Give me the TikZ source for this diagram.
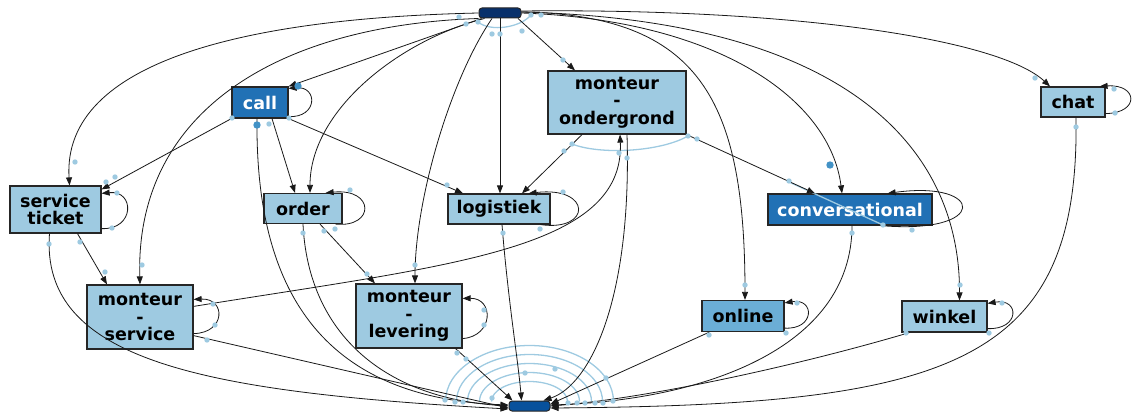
\documentclass[tikz,border=0pt]{standalone}
\usepackage{fontspec}
\setmainfont{DejaVu Sans}
\usetikzlibrary{arrows.meta}

\definecolor{lightbox}{HTML}{9ECAE1}
\definecolor{midbox}{HTML}{2171B5}
\definecolor{onlinebox}{HTML}{6BAED6}
\definecolor{startbox}{HTML}{08306B}
\definecolor{endbox}{HTML}{08519C}
\definecolor{dotc}{HTML}{9ECAE1}
\definecolor{bigdotc}{HTML}{4292C6}

\tikzset{
  act/.style={draw=black!85, line width=1.2pt, fill=lightbox, align=center,
    inner sep=0pt, text=black, font=\fontsize{17.5}{17.5}\selectfont\bfseries},
  hot/.style={act, fill=midbox, text=white},
  terminal/.style={draw=black!85, line width=1pt, rounded corners=3pt,
    inner sep=0pt, minimum height=10pt},
  flow/.style={draw=black!90, line width=0.8pt, -{Triangle[length=8pt,width=6pt]}},
  ghost/.style={draw=dotc, line width=1.3pt},
}

\begin{document}
\begin{tikzpicture}[x=1pt,y=-1pt]
\useasboundingbox (0,0) rectangle (1132,414);

% activities
\node[terminal, fill=startbox, minimum width=42pt] (start) at (500,13) {};
\node[terminal, fill=endbox, minimum width=41pt] (end) at (529.5,406) {};
\node[hot, minimum width=56pt, minimum height=31pt] (call) at (260,102.5) {call};
\node[act, minimum width=138pt, minimum height=63pt] (mo) at (617,102.5) {monteur\\-\\ondergrond};
\node[act, minimum width=64pt, minimum height=30pt] (ch) at (1073,102) {chat};
\node[act, minimum width=91pt, minimum height=47pt] (stk) at (55.5,209.5) {service\\ticket};
\node[act, minimum width=78pt, minimum height=30pt] (order) at (303,208.5) {order};
\node[act, minimum width=102pt, minimum height=30pt] (lg) at (499,209) {logistiek};
\node[hot, minimum width=164pt, minimum height=31pt] (cv) at (850,209.5) {conversational};
\node[act, minimum width=106pt, minimum height=64pt] (ms) at (140,317) {monteur\\-\\service};
\node[act, minimum width=106pt, minimum height=64pt] (ml) at (409,316) {monteur\\-\\levering};
\node[act, fill=onlinebox, minimum width=82pt, minimum height=31pt] (on) at (743,316) {online};
\node[act, minimum width=85pt, minimum height=31pt] (wk) at (944.5,316.5) {winkel};

% light-blue arcs
\draw[ghost] (478,22) .. controls (490,32) and (520,28) .. (531,15);
\draw[ghost] (572,144) .. controls (600,155) and (660,152) .. (688,136);
\draw[ghost] (789,182) -- (883,225);
\foreach \rx/\ry in {38/20, 50/29, 62/38, 73/47, 84/56}{
  \draw[ghost] ([xshift=-\rx pt]end.north) ++(0,1) arc[start angle=180, end angle=0, x radius=\rx pt, y radius=\ry pt];
}

% edges leaving start
\draw[flow] (start.west) .. controls (250,18) and (62,60) .. ([xshift=14pt]stk.north);
\draw[flow] (start.south west) .. controls (280,25) and (135,110) .. (ms.north);
\draw[flow] ([xshift=3pt]start.south west) -- (call.north east);
\draw[flow] ([xshift=6pt]start.south west) .. controls (400,40) and (310,110) .. ([xshift=7pt]order.north);
\draw[flow] ([xshift=-8pt]start.south) .. controls (450,80) and (415,200) .. ([xshift=6pt]ml.north);
\draw[flow] (start.south) -- ([xshift=1pt]lg.north);
\draw[flow] ([xshift=18pt]start.south) -- ([xshift=-42pt]mo.north);
\draw[flow] ([yshift=1pt]start.east) .. controls (700,15) and (745,100) .. ([xshift=2pt]on.north);
\draw[flow] (start.east) .. controls (720,20) and (830,100) .. ([xshift=-8pt]cv.north);
\draw[flow] ([yshift=1pt]start.east) .. controls (850,20) and (960,150) .. ([xshift=15pt]wk.north);
\draw[flow] ([yshift=2pt]start.east) .. controls (800,8) and (1000,40) .. ([xshift=-23pt]ch.north);

% edges leaving call
\draw[flow] ([yshift=2pt]call.south east) .. controls (318,118) and (318,86) .. ([yshift=-2pt]call.north east);
\draw[flow] (call.south west) -- ([yshift=-4pt]stk.north east);
\draw[flow] ([xshift=12pt]call.south) -- ([xshift=-8pt]order.north);
\draw[flow] (call.south east) -- ([xshift=-36pt]lg.north);
\draw[flow] ([xshift=-3pt]call.south) .. controls (255,300) and (330,398) .. ([yshift=1pt]end.west);

% edges leaving order
\draw[flow] ([xshift=-7pt]order.south east) .. controls (375,228) and (375,188) .. ([xshift=-17pt]order.north east);
\draw[flow] ([xshift=17pt]order.south) -- ([xshift=-34pt]ml.north);
\draw[flow] (order.south) .. controls (308,330) and (380,398) .. (end.west);

% edges leaving logistiek
\draw[flow] ([xshift=-10pt]lg.south east) .. controls (592,232) and (592,186) .. ([xshift=-22pt]lg.north east);
\draw[flow] ([xshift=3pt]lg.south) .. controls (508,300) and (518,360) .. ([xshift=-8pt]end.north);

% edges leaving monteur - ondergrond
\draw[flow] ([xshift=-35pt]mo.south) -- ([xshift=23pt]lg.north);
\draw[flow] (mo.south east) -- ([xshift=-35pt]cv.north);
\draw[flow] ([xshift=10pt]mo.south) .. controls (632,300) and (590,385) .. ([xshift=14pt]end.north);

% edges leaving service ticket
\draw[flow] ([yshift=5pt]stk.south east) .. controls (135,230) and (135,190) .. ([yshift=-8pt]stk.north east);
\draw[flow] ([xshift=22pt]stk.south) -- ([xshift=-33pt]ms.north);
\draw[flow] ([xshift=-6pt]stk.south) .. controls (40,360) and (200,392) .. ([yshift=-3pt]end.west);

% edges leaving monteur - service
\draw[flow] ([yshift=16pt]ms.south east) .. controls (226,333) and (226,298) .. ([yshift=-15pt]ms.north east);
\draw[flow] ([yshift=-22pt]ms.north east) .. controls (450,265) and (625,250) .. ([xshift=3pt]mo.south);
\draw[flow] ([yshift=14pt]ms.south east) -- ([yshift=-2pt]end.west);

% edges leaving monteur - levering
\draw[flow] ([yshift=10pt]ml.south east) .. controls (494,336) and (494,298) .. ([yshift=-15pt]ml.north east);
\draw[flow] ([xshift=-7pt]ml.south east) -- ([xshift=4pt]end.north west);

% edges leaving conversational
\draw[flow] ([xshift=-52pt]cv.south east) .. controls (990,235) and (985,180) .. ([xshift=-45pt]cv.north east);
\draw[flow] ([xshift=2pt]cv.south) .. controls (852,350) and (700,400) .. ([yshift=1pt]end.east);

% edges leaving online
\draw[flow] ([yshift=4pt]on.south east) .. controls (815,330) and (815,298) .. ([yshift=-3pt]on.north east);
\draw[flow] ([xshift=8pt]on.south west) -- ([yshift=2pt]end.east);

% edges leaving winkel
\draw[flow] ([yshift=4pt]wk.south east) .. controls (1020,330) and (1020,298) .. ([yshift=-3pt]wk.north east);
\draw[flow] ([xshift=8pt]wk.south west) .. controls (800,365) and (650,398) .. (end.east);

% edges leaving chat
\draw[flow] ([yshift=4pt]ch.south east) .. controls (1140,113) and (1138,84) .. ([xshift=-6pt]ch.north east);
\draw[flow] ([xshift=3pt]ch.south) .. controls (1080,365) and (950,405) .. ([yshift=-2pt]end.east);

% edge markers
\foreach \px/\py in {459/17,466/24,478/22,531/15,541/15,492/34,500/34,522/31,
  75/162,142/265,415/265,563/60,745/285,960/285,1035/78,
  232/118,269/124,289/118,447/185,
  303/233,324/231,350/190,335/229,
  503/233,540/229,563/192,
  564/151,572/144,619/153,627/158,688/136,697/139,789/181,
  115/177,106/182,117/193,112/228,49/244,80/242,
  213/304,215/325,207/340,105/272,
  484/310,484/325,457/353,466/359,367/274,
  883/225,912/230,852/233,
  797/303,786/333,709/335,
  1002/303,989/333,906/333,
  1076/127,1114/89,1115/113,
  445/400,455/402,463/402,492/398,525/373,555/369,606/378,
  568/403,577/403,585/403,595/403,603/403,613/401}{
  \fill[dotc] (\px,\py) circle (2.7pt);
}
\fill[bigdotc] (257,125) circle (3.7pt);
\fill[bigdotc] (298,86) circle (3.7pt);
\fill[bigdotc] (830,165) circle (3.7pt);
\end{tikzpicture}
\end{document}
